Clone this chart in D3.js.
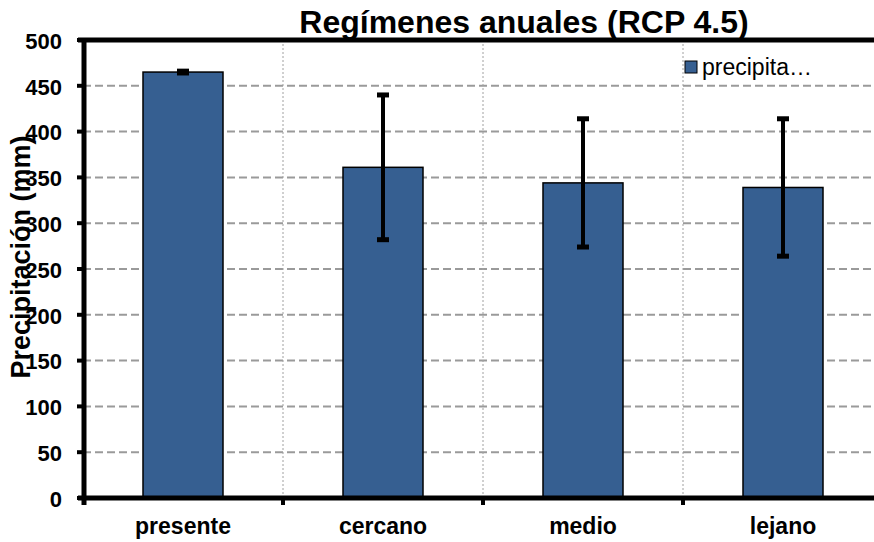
<!DOCTYPE html>
<html>
<head>
<meta charset="utf-8">
<script src="https://cdn.jsdelivr.net/npm/d3@7"></script>
<style>
  body { margin: 0; background: #fff; overflow: hidden; }
  text { font-family: "Liberation Sans", Arial, sans-serif; }
</style>
</head>
<body>
<script>
// 数据
const categories = ["presente", "cercano", "medio", "lejano"];
const values = [465, 361, 344, 339];
const errPlus = [1, 79, 70, 75];
const errMinus = [1, 79, 70, 75];
const yTicks = [0, 50, 100, 150, 200, 250, 300, 350, 400, 450, 500];

const width = 874, height = 542;
const margin = { top: 40, right: -9, bottom: 44, left: 83 };

const svg = d3.select('body').append('svg')
    .attr('width', width)
    .attr('height', height);

const x = d3.scaleBand()
    .domain(categories)
    .range([margin.left, width - margin.right])
    .paddingInner(0.6)
    .paddingOuter(0.3);

const y = d3.scaleLinear()
    .domain([0, 500])
    .range([height - margin.bottom, margin.top]);

const x0 = margin.left, x1 = width - margin.right;
const step = x.step();
const boundary = d => x(d) - (step - x.bandwidth()) / 2;  // 类别分界位置

// 横向网格线（虚线）
svg.append('g').selectAll('line')
    .data(yTicks.filter(d => d > 0 && d < 500))
    .enter().append('line')
    .attr('x1', x0).attr('x2', x1)
    .attr('y1', d => y(d)).attr('y2', d => y(d))
    .attr('stroke', '#9a9a9a')
    .attr('stroke-width', 2)
    .attr('stroke-dasharray', '8,4');

// 纵向网格线（点线）
svg.append('g').selectAll('line')
    .data(categories.slice(1))
    .enter().append('line')
    .attr('x1', boundary).attr('x2', boundary)
    .attr('y1', y(500)).attr('y2', y(0))
    .attr('stroke', '#a0a0a0')
    .attr('stroke-width', 1)
    .attr('stroke-dasharray', '2,2');

// 柱子
svg.append('g').selectAll('rect')
    .data(categories)
    .enter().append('rect')
    .attr('x', d => x(d))
    .attr('y', (d, i) => y(values[i]))
    .attr('width', x.bandwidth())
    .attr('height', (d, i) => y(0) - y(values[i]))
    .attr('fill', '#365F91')
    .attr('stroke', '#000')
    .attr('stroke-width', 1.5);

// 误差线
const eb = svg.append('g');
categories.forEach((c, i) => {
    const cx = x(c) + x.bandwidth() / 2;
    const top = y(values[i] + errPlus[i]);
    const bot = y(values[i] - errMinus[i]);
    eb.append('line')
        .attr('x1', cx).attr('x2', cx)
        .attr('y1', top).attr('y2', bot)
        .attr('stroke', '#000').attr('stroke-width', 4);
    [top, bot].forEach(v => {
        eb.append('line')
            .attr('x1', cx - 6).attr('x2', cx + 6)
            .attr('y1', v).attr('y2', v)
            .attr('stroke', '#000').attr('stroke-width', 5);
    });
});

// 坐标轴
const axisG = svg.append('g');
axisG.append('line')
    .attr('x1', x0 + 1).attr('x2', x0 + 1)
    .attr('y1', y(500) - 2).attr('y2', y(0) + 7)
    .attr('stroke', '#000').attr('stroke-width', 5);
axisG.append('line')
    .attr('x1', x0 - 5).attr('x2', x1)
    .attr('y1', y(0)).attr('y2', y(0))
    .attr('stroke', '#000').attr('stroke-width', 5);
axisG.append('line')
    .attr('x1', x0 - 5).attr('x2', x1)
    .attr('y1', y(500)).attr('y2', y(500))
    .attr('stroke', '#000').attr('stroke-width', 5);

// y 刻度
axisG.selectAll('.ytick')
    .data(yTicks)
    .enter().append('line')
    .attr('x1', x0 - 6).attr('x2', x0)
    .attr('y1', d => y(d)).attr('y2', d => y(d))
    .attr('stroke', '#000').attr('stroke-width', 4);

axisG.selectAll('.ylab')
    .data(yTicks)
    .enter().append('text')
    .attr('x', 62)
    .attr('y', d => y(d) + 1)
    .attr('dy', '0.35em')
    .attr('text-anchor', 'end')
    .style('font-size', '22px')
    .style('font-weight', 'bold')
    .text(d => d);

// x 刻度
axisG.selectAll('.xtick')
    .data(categories.slice(1))
    .enter().append('line')
    .attr('x1', boundary).attr('x2', boundary)
    .attr('y1', y(0)).attr('y2', y(0) + 7)
    .attr('stroke', '#000').attr('stroke-width', 4);

axisG.selectAll('.xlab')
    .data(categories)
    .enter().append('text')
    .attr('x', d => x(d) + x.bandwidth() / 2)
    .attr('y', 534)
    .attr('text-anchor', 'middle')
    .style('font-size', '23px')
    .style('font-weight', 'bold')
    .text(d => d);

// 标题
svg.append('text')
    .attr('x', 524)
    .attr('y', 33)
    .attr('text-anchor', 'middle')
    .style('font-size', '32px')
    .style('font-weight', 'bold')
    .text('Regímenes anuales (RCP 4.5)');

// y 轴标题
svg.append('text')
    .attr('transform', 'translate(30,257) rotate(-90)')
    .attr('text-anchor', 'middle')
    .style('font-size', '27px')
    .style('font-weight', 'bold')
    .text('Precipitación (mm)');

// 图例
const legend = svg.append('g').attr('transform', 'translate(685,61)');
legend.append('rect')
    .attr('width', 12).attr('height', 12)
    .attr('fill', '#365F91')
    .attr('stroke', '#000').attr('stroke-width', 1);
legend.append('text')
    .attr('x', 17).attr('y', 14)
    .style('font-size', '23px')
    .text('precipita…');
</script>
</body>
</html>
